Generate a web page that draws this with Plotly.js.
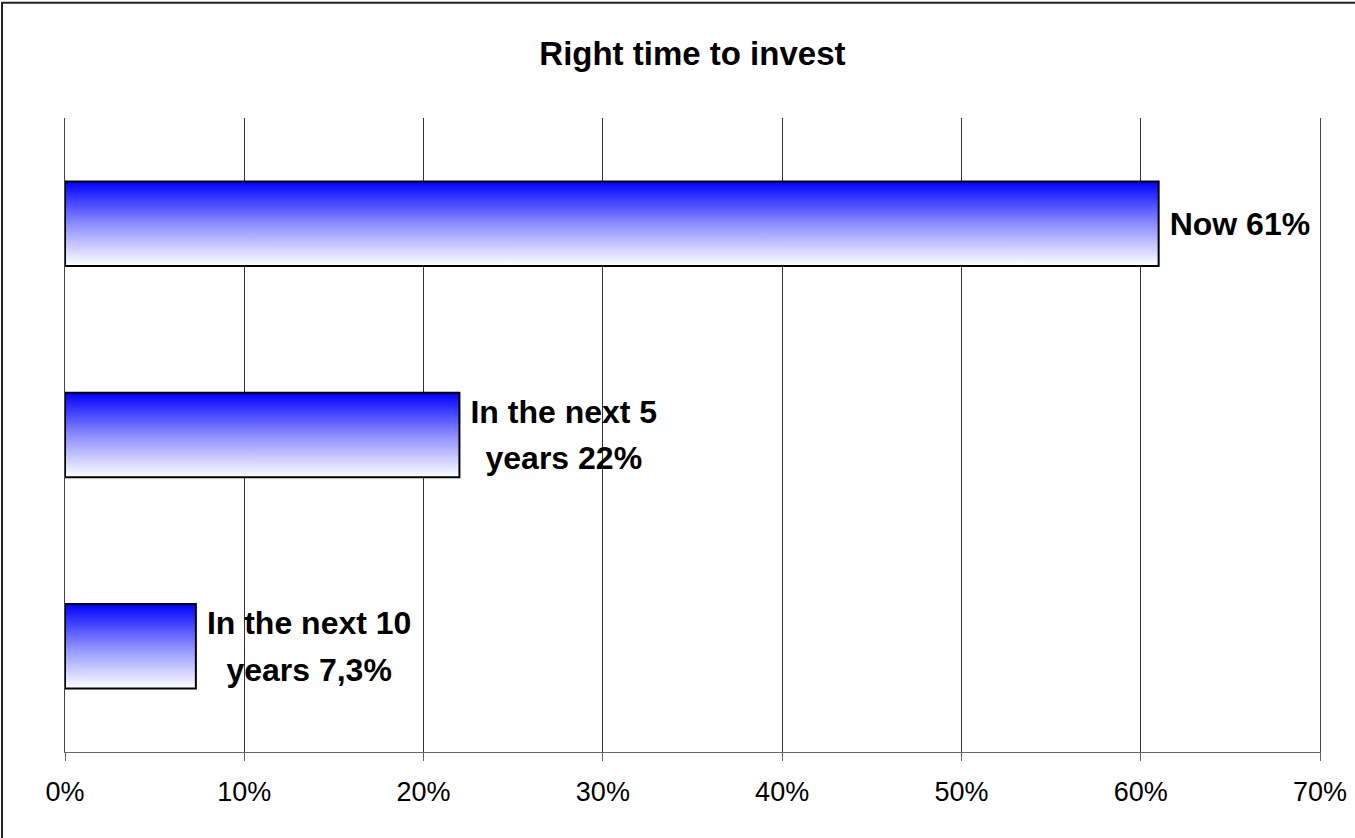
<!DOCTYPE html>
<html>
<head>
<meta charset="utf-8">
<script src="https://cdn.plot.ly/plotly-3.0.1.min.js"></script>
<style>html,body{margin:0;padding:0;background:#fff;}#chart{width:1355px;height:838px;}</style>
</head>
<body>
<div id="chart"></div>
<script>
const categories = ['Now', 'In the next 5 years', 'In the next 10 years'];
const values = [61, 22, 7.3];
const labels = ['Now 61%', 'In the next 5<br>years 22%', 'In the next 10<br>years 7,3%'];
const tickValues = [0, 10, 20, 30, 40, 50, 60, 70];
const tickLabels = ['0%', '10%', '20%', '30%', '40%', '50%', '60%', '70%'];

const FONT = 'Liberation Sans, Arial, sans-serif';

const trace = {
  type: 'bar',
  orientation: 'h',
  y: categories,
  x: values,
  text: labels,
  textposition: 'outside',
  constraintext: 'none',
  cliponaxis: false,
  hoverinfo: 'none',
  textfont: {family: FONT, size: 32, color: '#000', weight: 'bold'},
  marker: {color: '#6666ff', line: {color: '#000', width: 2}}
};

const layout = {
  width: 1355, height: 838,
  margin: {l: 65, r: 35, t: 118, b: 86},
  paper_bgcolor: '#fff', plot_bgcolor: '#fff',
  showlegend: false,
  bargap: 0.6,
  font: {family: FONT, color: '#000'},
  title: {text: '<b>Right time to invest</b>', x: 0.511, xanchor: 'center', y: 0.936, yanchor: 'middle',
          font: {size: 33, family: FONT, color: '#000'}},
  xaxis: {
    range: [0, 70], tickvals: tickValues, ticktext: tickLabels,
    showgrid: true, gridcolor: '#333', gridwidth: 1,
    zeroline: false, showline: true, linecolor: '#666', linewidth: 1,
    ticks: 'outside', ticklen: 8, tickcolor: '#666', tickwidth: 1,
    ticklabelstandoff: 8,
    tickfont: {size: 27, color: '#000'}
  },
  yaxis: {
    autorange: 'reversed', showticklabels: false, showgrid: false, zeroline: false,
    showline: true, mirror: true, linecolor: '#444', linewidth: 1, ticks: ''
  },
  shapes: [{type: 'rect', xref: 'paper', yref: 'paper', x0: -0.0502, x1: 1.05, y0: -0.2, y1: 1.1816,
            line: {color: '#222', width: 2}, fillcolor: 'rgba(0,0,0,0)', layer: 'below'}]
};

Plotly.newPlot('chart', [trace], layout, {displayModeBar: false, staticPlot: true}).then(function(gd){
  const svg = gd.querySelector('svg.main-svg');
  const NS = 'http://www.w3.org/2000/svg';
  let defs = svg.querySelector('defs');
  if (!defs) { defs = document.createElementNS(NS, 'defs'); svg.insertBefore(defs, svg.firstChild); }
  const grad = document.createElementNS(NS, 'linearGradient');
  grad.setAttribute('id', 'barGrad');
  grad.setAttribute('x1', '0'); grad.setAttribute('y1', '0');
  grad.setAttribute('x2', '0'); grad.setAttribute('y2', '1');
  [['0', '#0000ff'], ['0.5', '#8c8cff'], ['1', '#ffffff']].forEach(function(s){
    const st = document.createElementNS(NS, 'stop');
    st.setAttribute('offset', s[0]); st.setAttribute('stop-color', s[1]);
    grad.appendChild(st);
  });
  defs.appendChild(grad);
  gd.querySelectorAll('.barlayer .point path').forEach(function(p){
    p.style.fill = 'url(#barGrad)';
    p.style.fillOpacity = 1;
  });
  // a little more padding between bar end and its label, and slightly looser line spacing
  gd.querySelectorAll('.barlayer .point text.bartext').forEach(function(t){
    const lines = t.querySelectorAll('tspan.line');
    let dyShift = 0;
    lines.forEach(function(ts, i){
      if (i > 0) { ts.setAttribute('dy', '1.45em'); dyShift += 0.15 * 32 / 2; }
    });
    const tr = t.getAttribute('transform') || '';
    t.setAttribute('transform', 'translate(8,' + (-dyShift) + ') ' + tr);
  });
});
</script>
</body>
</html>
